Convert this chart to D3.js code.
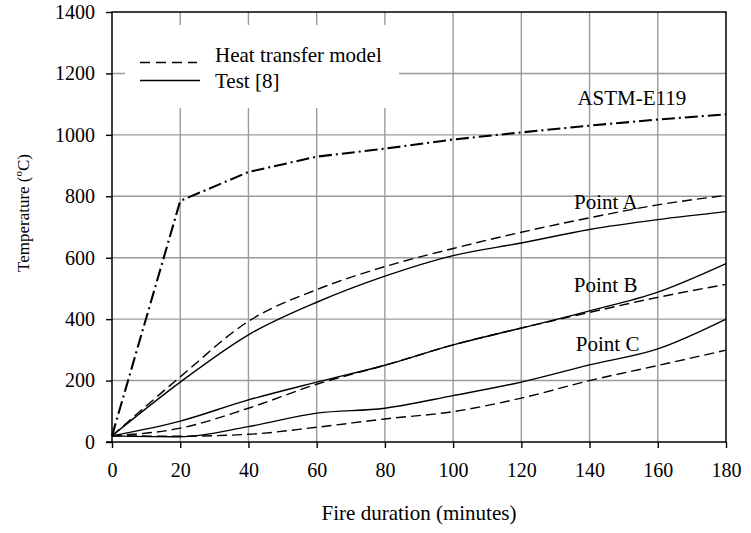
<!DOCTYPE html>
<html>
<head>
<meta charset="utf-8">
<script src="https://cdn.jsdelivr.net/npm/d3@7"></script>
<style>
	body { margin: 0; background: #fff; }
	svg { display: block; }
	svg text { font-family: "Liberation Serif", "Times New Roman", serif; fill: #000; }
</style>
</head>
<body>
<div id="chart"></div>
<script>
// time in minutes
var minutes = [0, 20, 40, 60, 80, 100, 120, 140, 160, 180];
var astmE119 = [20, 785, 879, 929, 955, 985, 1008, 1030, 1050, 1067];
var pointAModel = [20, 212, 393, 496, 571, 630, 683, 730, 772, 803];
var pointATest = [20, 195, 349, 455, 540, 607, 648, 692, 724, 750];
var pointBModel = [20, 45, 110, 188, 250, 316, 371, 422, 471, 513];
var pointBTest = [20, 68, 137, 195, 250, 316, 371, 427, 488, 581];
var pointCModel = [20, 19, 25, 48, 75, 99, 143, 200, 249, 299];
var pointCTest = [20, 17, 50, 94, 110, 151, 195, 251, 303, 400];
var xTicks = [0, 20, 40, 60, 80, 100, 120, 140, 160, 180];
var yTicks = [0, 200, 400, 600, 800, 1000, 1200, 1400];

var W = 751, H = 533;
var plotLeft = 112, plotRight = 726, plotTop = 12, plotBottom = 442;
var serif = "Liberation Serif";

var svg = d3.select("#chart").append("svg").attr("width", W).attr("height", H);

var x = d3.scaleLinear().domain([0, 180]).range([plotLeft, plotRight]);
var y = d3.scaleLinear().domain([0, 1400]).range([plotBottom, plotTop]);

// grid
var grid = svg.append("g").attr("stroke", "#9a9a9a").attr("stroke-width", 1.4);
grid.selectAll("line.v").data(xTicks.slice(1, -1)).enter().append("line")
	.attr("x1", d => x(d)).attr("x2", d => x(d)).attr("y1", plotTop).attr("y2", plotBottom);
grid.selectAll("line.h").data(yTicks.slice(1, -1)).enter().append("line")
	.attr("x1", plotLeft).attr("x2", plotRight).attr("y1", d => y(d)).attr("y2", d => y(d));

// legend background hides the grid
svg.append("rect").attr("x", 125).attr("y", 25).attr("width", 274).attr("height", 83).attr("fill", "#fff");

// axes
var xAxis = d3.axisBottom(x).tickValues(xTicks).tickSize(6).tickPadding(15).tickFormat(d3.format("d"));
var yAxis = d3.axisLeft(y).tickValues(yTicks).tickSize(6).tickPadding(11).tickFormat(d3.format("d"));

var gx = svg.append("g").attr("transform", "translate(0," + plotBottom + ")").call(xAxis);
var gy = svg.append("g").attr("transform", "translate(" + plotLeft + ",0)").call(yAxis);
[gx, gy].forEach(function(g){
	g.attr("font-family", serif).attr("font-size", 20);
	g.select(".domain").remove();
	g.selectAll("line").attr("stroke", "#000").attr("stroke-width", 1.4);
	g.selectAll("text").attr("font-size", 20).attr("font-family", serif).attr("fill", "#000");
});

// frame
svg.append("rect").attr("x", plotLeft).attr("y", plotTop).attr("width", plotRight - plotLeft).attr("height", plotBottom - plotTop)
	.attr("fill", "none").attr("stroke", "#000").attr("stroke-width", 1.5);
svg.append("line").attr("x1", plotLeft - 6).attr("x2", plotLeft).attr("y1", plotBottom).attr("y2", plotBottom)
	.attr("stroke", "#000").attr("stroke-width", 1.5);

// curves
var smooth = d3.line().x((d, i) => x(minutes[i])).y(d => y(d)).curve(d3.curveMonotoneX);
var straight = d3.line().x((d, i) => x(minutes[i])).y(d => y(d));

var series = [
	{ values: pointAModel, dash: "10,5" },
	{ values: pointATest, dash: null },
	{ values: pointBModel, dash: "10,5" },
	{ values: pointBTest, dash: null },
	{ values: pointCModel, dash: "10,5" },
	{ values: pointCTest, dash: null }
];
svg.append("g").selectAll("path").data(series).enter().append("path")
	.attr("d", d => smooth(d.values))
	.attr("fill", "none").attr("stroke", "#000").attr("stroke-width", 1.4)
	.attr("stroke-dasharray", d => d.dash);

svg.append("path").attr("d", straight(astmE119))
	.attr("fill", "none").attr("stroke", "#000").attr("stroke-width", 2.1)
	.attr("stroke-dasharray", "13,4,2,4");

// labels on the curves
var labels = [
	{ text: "ASTM-E119", t: 152.4, v: 1097 },
	{ text: "Point A", t: 144.8, v: 760 },
	{ text: "Point B", t: 144.7, v: 490 },
	{ text: "Point C", t: 145.3, v: 295 }
];
svg.append("g").selectAll("text").data(labels).enter().append("text")
	.attr("x", d => x(d.t)).attr("y", d => y(d.v))
	.attr("text-anchor", "middle").attr("font-family", serif).attr("font-size", 21).text(d => d.text);

// legend
var legend = svg.append("g").attr("font-family", serif);
legend.append("line").attr("x1", 140).attr("x2", 197).attr("y1", 62.5).attr("y2", 62.5)
	.attr("stroke", "#000").attr("stroke-width", 1.4).attr("stroke-dasharray", "10,6");
legend.append("line").attr("x1", 140).attr("x2", 200).attr("y1", 80.5).attr("y2", 80.5)
	.attr("stroke", "#000").attr("stroke-width", 1.4);
legend.append("text").attr("x", 215).attr("y", 62).attr("font-size", 21).text("Heat transfer model");
legend.append("text").attr("x", 215).attr("y", 88).attr("font-size", 21).text("Test [8]");

// axis titles
svg.append("text").attr("x", (plotLeft + plotRight) / 2).attr("y", 520).attr("text-anchor", "middle")
	.attr("font-family", serif).attr("font-size", 21).text("Fire duration (minutes)");
var yt = svg.append("text").attr("transform", "translate(29,213) rotate(-90)")
	.attr("text-anchor", "middle").attr("font-family", serif).attr("font-size", 17);
yt.append("tspan").text("Temperature (");
yt.append("tspan").attr("font-size", 11).attr("dy", -7).text("o");
yt.append("tspan").attr("dy", 7).text("C)");
</script>
</body>
</html>
